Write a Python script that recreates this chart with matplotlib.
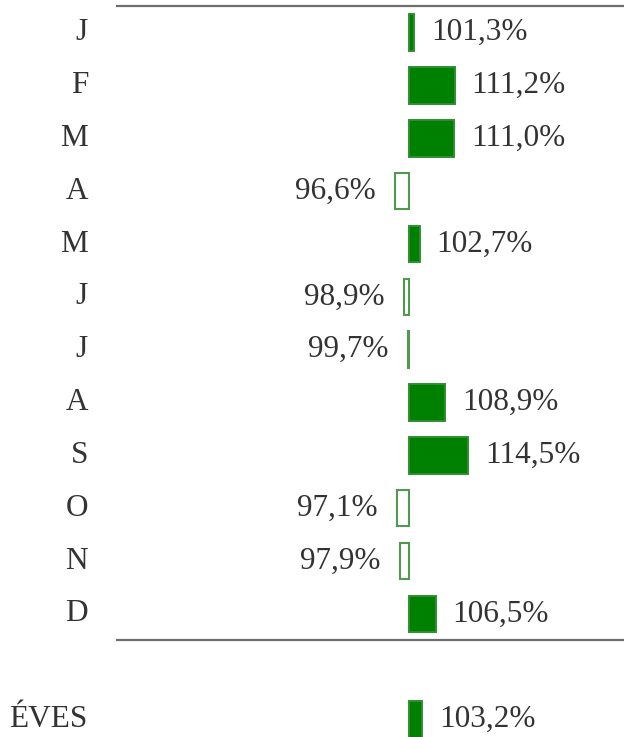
import matplotlib

matplotlib.use("Agg")
import matplotlib.pyplot as plt
import matplotlib.transforms as mtransforms

# monthly index (previous year = 100%), plus the yearly figure
months = ["J", "F", "M", "A", "M", "J", "J", "A", "S", "O", "N", "D"]
values = [101.3, 111.2, 111.0, 96.6, 102.7, 98.9, 99.7, 108.9, 114.5, 97.1, 97.9, 106.5]
year_label = "ÉVES"
year_value = 103.2

BASE = 100.0
GREEN = "#008000"
EDGE = "#2f8f2f"
HOLLOW_EDGE = "#4f9a4f"
TEXT = "#333333"
LINE = "#6e6e6e"
FONT = "Liberation Serif"
FS = 22.5

W, H = 624, 737
fig = plt.figure(figsize=(W / 100, H / 100), dpi=100)
ax = fig.add_axes([0, 0, 1, 1])
ax.set_axis_off()

# 1 % = 4.1 px, 100 % sits at x = 409 px; one row = 52.85 px
px_per_pct = 4.1
x0 = 409
row_px = 52.85
first_row = 32.6
ax.set_xlim(BASE - x0 / px_per_pct, BASE + (W - x0) / px_per_pct)
ax.set_ylim((H - first_row) / row_px, -first_row / row_px)

rows = list(range(len(months))) + [13]
labels = months + [year_label]
vals = values + [year_value]

lab_tr = mtransforms.blended_transform_factory(ax.transAxes, ax.transData)
for y, lab, v in zip(rows, labels, vals):
    up = v >= BASE
    ax.barh(y, v - BASE, left=BASE, height=0.69,
            color=GREEN if up else "white",
            edgecolor=EDGE if up else HOLLOW_EDGE,
            linewidth=1.4 if up else 1.5, zorder=2)
    ax.text(88 / W, y, lab, transform=lab_tr, ha="right", va="center",
            fontsize=FS, family=FONT, color=TEXT)
    txt = f"{v:.1f}%".replace(".", ",")
    if up:
        ax.annotate(txt, (v, y), xytext=(12, 0), textcoords="offset points",
                    ha="left", va="center", fontsize=FS, family=FONT, color=TEXT)
    else:
        ax.annotate(txt, (v, y), xytext=(-14, 0), textcoords="offset points",
                    ha="right", va="center", fontsize=FS, family=FONT, color=TEXT)

# frame lines above January and below December
for yl in (-0.5, 11.5):
    ax.axhline(yl, xmin=117 / W, xmax=1, color=LINE, linewidth=1.6, zorder=1)

fig.savefig("out.png", dpi=100)
